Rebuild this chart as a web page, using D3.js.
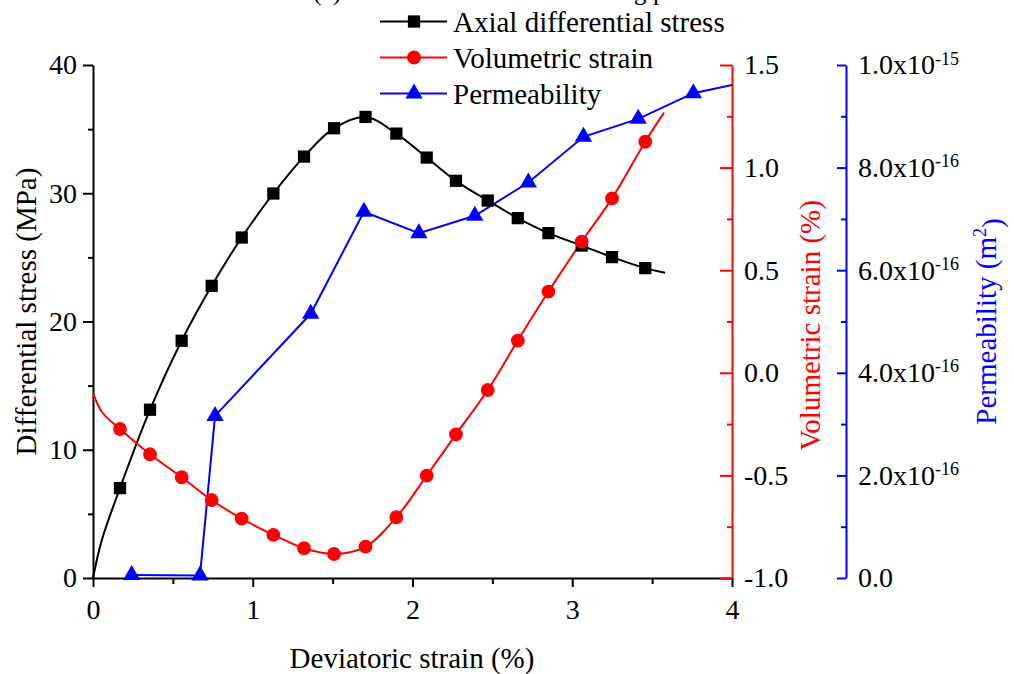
<!DOCTYPE html>
<html>
<head>
<meta charset="utf-8">
<script src="https://cdn.jsdelivr.net/npm/d3@7"></script>
<style>
  body { margin: 0; background: #fff; }
  svg text { font-family: "Liberation Serif", "Times New Roman", serif; }
</style>
</head>
<body>
<div id="chart"></div>
<script>
// deviatoric strain (%) at the marker positions
const markerStrain = [0.169, 0.357, 0.555, 0.743, 0.931, 1.129, 1.321, 1.509, 1.706,
                      1.899, 2.089, 2.272, 2.471, 2.659, 2.851, 3.059, 3.249, 3.457];

// axial differential stress (MPa)
const stressStrain = [0, 0.056].concat(markerStrain, [3.581]);
const stressValues = [0, 2.99, 7.01, 13.12, 18.5, 22.78, 26.55, 29.98, 32.86, 35.07, 35.95,
                      34.65, 32.78, 30.97, 29.43, 28.06, 26.89, 25.92, 25.02, 24.16, 23.8];

// volumetric strain (%)
const volStrain = [0, 0.056].concat(markerStrain, [3.574]);
const volValues = [-0.098, -0.191, -0.274, -0.397, -0.509, -0.620, -0.711, -0.790, -0.855, -0.883,
                   -0.847, -0.704, -0.501, -0.300, -0.084, 0.157, 0.396, 0.639, 0.850, 1.126, 1.268];

// permeability (m2)
const permStrain = [0.242, 0.670, 0.764, 1.363, 1.696, 2.040, 2.390, 2.725, 3.070, 3.413, 3.758, 4.0];
const permValues = [6e-18, 5e-18, 3.16e-16, 5.15e-16, 7.14e-16, 6.72e-16, 7.06e-16, 7.71e-16,
                    8.60e-16, 8.95e-16, 9.45e-16, 9.61e-16];
const permMarked = 11; // last point is only the line end

const xTicks = [0, 1, 2, 3, 4];
const stressTicks = [0, 10, 20, 30, 40];
const volTicks = [-1.0, -0.5, 0.0, 0.5, 1.0, 1.5];
const permTicks = [0, 2e-16, 4e-16, 6e-16, 8e-16, 1e-15];

const legendNames = ["Axial differential stress", "Volumetric strain", "Permeability"];

const width = 1014, height = 674;
const pL = 93, pR = 732, pT = 65, pB = 578;
const fs = 29;

const svg = d3.select("#chart").append("svg")
    .attr("width", width)
    .attr("height", height);

const x = d3.scaleLinear().domain([0, 4]).range([pL, pR]);
const yS = d3.scaleLinear().domain([0, 40]).range([pB, pT]);
const yV = d3.scaleLinear().domain([-1, 1.5]).range([pB, pT]);
const yP = d3.scaleLinear().domain([0, 1e-15]).range([pB, pT]);

// title, cut off by the top edge like in the original figure
svg.append("text")
    .attr("x", 313).attr("y", 0)
    .attr("font-size", 25.5)
    .text("(a) Conventional triaxial loading path");

function styleAxis(g, color) {
    g.selectAll("path, line").attr("stroke", color).attr("stroke-width", 2);
    g.selectAll("text").attr("fill", "black")
        .attr("font-family", "Liberation Serif").attr("font-size", 28);
}

// minor ticks first
svg.append("g").attr("transform", `translate(0,${pB})`)
    .call(d3.axisBottom(x).tickValues(d3.range(0.5, 4, 1)).tickSize(6).tickFormat(""))
    .call(g => { styleAxis(g, "black"); g.select(".domain").remove(); });
svg.append("g").attr("transform", `translate(${pL},0)`)
    .call(d3.axisLeft(yS).tickValues([5, 15, 25, 35]).tickSize(5).tickFormat(""))
    .call(g => { styleAxis(g, "black"); g.select(".domain").remove(); });
svg.append("g").attr("transform", `translate(${pR},0)`)
    .call(d3.axisRight(yV).tickValues([-0.75, -0.25, 0.25, 0.75, 1.25]).tickSizeInner(-5).tickSizeOuter(0).tickFormat(""))
    .call(g => { styleAxis(g, "red"); g.select(".domain").remove(); });
svg.append("g").attr("transform", `translate(846,0)`)
    .call(d3.axisRight(yP).tickValues([1e-16, 3e-16, 5e-16, 7e-16, 9e-16]).tickSizeInner(-5).tickSizeOuter(0).tickFormat(""))
    .call(g => { styleAxis(g, "blue"); g.select(".domain").remove(); });

// main axes
svg.append("g").attr("transform", `translate(0,${pB})`)
    .call(d3.axisBottom(x).tickValues(xTicks).tickSizeInner(9).tickSizeOuter(0).tickPadding(12).tickFormat(d3.format("d")))
    .call(g => styleAxis(g, "black"));

svg.append("g").attr("transform", `translate(${pL},0)`)
    .call(d3.axisLeft(yS).tickValues(stressTicks).tickSizeInner(10).tickSizeOuter(0).tickPadding(6))
    .call(g => styleAxis(g, "black"));

svg.append("g").attr("transform", `translate(${pR},0)`)
    .call(d3.axisRight(yV).tickValues(volTicks).tickSizeInner(-12).tickSizeOuter(0).tickPadding(12))
    .call(g => styleAxis(g, "red"))
    .call(g => g.selectAll("text").text(d => d3.format(".1f")(d).replace("−", "-")));

const permAxis = svg.append("g").attr("transform", `translate(846,0)`)
    .call(d3.axisRight(yP).tickValues(permTicks).tickSizeInner(-9).tickSizeOuter(0).tickPadding(12))
    .call(g => styleAxis(g, "blue"));
permAxis.selectAll("text").each(function(d) {
    const t = d3.select(this).text("");
    if (d === 0) { t.text("0.0"); return; }
    const e = Math.floor(Math.log10(d) + 1e-9);
    const m = d / Math.pow(10, e);
    t.append("tspan").text(m.toFixed(1) + "x10");
    t.append("tspan").attr("dy", "-0.55em").attr("font-size", 18).text(e);
});

// axis titles
svg.append("text")
    .attr("transform", `translate(36,${(pT + pB) / 2 - 10}) rotate(-90)`)
    .attr("text-anchor", "middle").attr("font-size", fs)
    .text("Differential stress (MPa)");
svg.append("text")
    .attr("transform", `translate(820,${(pT + pB) / 2 + 4}) rotate(-90)`)
    .attr("text-anchor", "middle").attr("font-size", fs).attr("fill", "red")
    .text("Volumetric strain (%)");
const pt = svg.append("text")
    .attr("transform", `translate(996,${(pT + pB) / 2}) rotate(-90)`)
    .attr("text-anchor", "middle").attr("font-size", fs).attr("fill", "blue");
pt.append("tspan").text("Permeability (m");
pt.append("tspan").attr("dy", "-0.55em").attr("font-size", 18).text("2");
pt.append("tspan").attr("dy", "0.55em").text(")");
svg.append("text")
    .attr("x", 412).attr("y", 668)
    .attr("text-anchor", "middle").attr("font-size", fs)
    .text("Deviatoric strain (%)");

// series
const stressData = stressStrain.map((s, i) => ({ x: s, y: stressValues[i] }));
const volData = volStrain.map((s, i) => ({ x: s, y: volValues[i] }));
const permData = permStrain.map((s, i) => ({ x: s, y: permValues[i] }));

svg.append("path")
    .attr("d", d3.line().x(d => x(d.x)).y(d => yS(d.y)).curve(d3.curveCatmullRom)(stressData))
    .attr("fill", "none").attr("stroke", "black").attr("stroke-width", 2);
svg.append("path")
    .attr("d", d3.line().x(d => x(d.x)).y(d => yV(d.y)).curve(d3.curveCatmullRom)(volData))
    .attr("fill", "none").attr("stroke", "red").attr("stroke-width", 2);
svg.append("path")
    .attr("d", d3.line().x(d => x(d.x)).y(d => yP(d.y))(permData))
    .attr("fill", "none").attr("stroke", "blue").attr("stroke-width", 2);

const sq = d3.symbol().type(d3.symbolSquare).size(150);
const ci = d3.symbol().type(d3.symbolCircle).size(150);
const tr = d3.symbol().type(d3.symbolTriangle).size(130);

svg.append("g").selectAll("path")
    .data(stressData.slice(2, 2 + markerStrain.length)).join("path")
    .attr("d", sq).attr("transform", d => `translate(${x(d.x)},${yS(d.y)})`).attr("fill", "black");
svg.append("g").selectAll("path")
    .data(volData.slice(2, 2 + markerStrain.length)).join("path")
    .attr("d", ci).attr("transform", d => `translate(${x(d.x)},${yV(d.y)})`).attr("fill", "red");
svg.append("g").selectAll("path")
    .data(permData.slice(0, permMarked)).join("path")
    .attr("d", tr).attr("transform", d => `translate(${x(d.x)},${yP(d.y)})`).attr("fill", "blue");

// legend
const legColors = ["black", "red", "blue"];
const legSymbols = [sq, ci, tr];
const leg = svg.append("g");
legendNames.forEach((name, i) => {
    const yy = 21.5 + i * 36;
    leg.append("line").attr("x1", 380).attr("x2", 447).attr("y1", yy).attr("y2", yy)
        .attr("stroke", legColors[i]).attr("stroke-width", 2);
    leg.append("path").attr("d", legSymbols[i]).attr("transform", `translate(414,${yy})`)
        .attr("fill", legColors[i]);
    leg.append("text").attr("x", 453).attr("y", yy).attr("dy", "0.35em")
        .attr("font-size", fs).text(name);
});
</script>
</body>
</html>
